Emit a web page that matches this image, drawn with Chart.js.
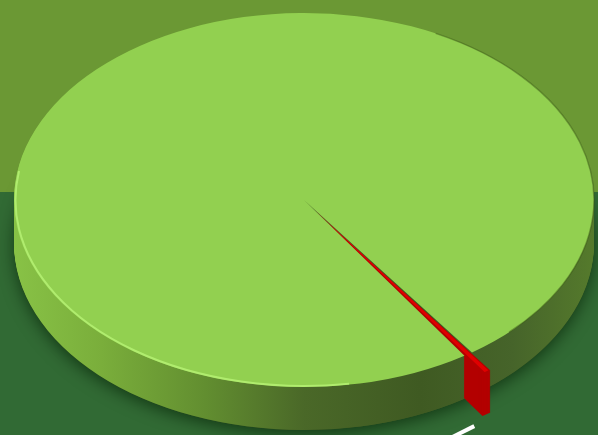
<!DOCTYPE html>
<html lang="en">
<head>
<meta charset="UTF-8">
<title>3D Pie</title>
<script src="https://cdn.jsdelivr.net/npm/chart.js"></script>
<style>
  html, body { margin: 0; padding: 0; background: #316a34; }
  #wrap { width: 598px; height: 435px; }
</style>
</head>
<body>
<div id="wrap"><canvas id="pie" width="598" height="435"></canvas></div>
<script>
const categories = ['Minority', 'Majority'];
const values = [0.5, 99.5];
const topColors = ['#e00000', '#92d050'];
const sideColors = ['#b30000', null]; // null = shaded green gradient

// where the flat circle gets projected to (tilted disc)
const center = { x: 304, y: 200 };
const radii = { x: 290, y: 187 };
const depth = 43;

function toEllipse(ctx, ref) {
  ctx.translate(center.x, center.y);
  ctx.scale(radii.x / ref.outerRadius, radii.y / ref.outerRadius);
  ctx.translate(-ref.x, -ref.y);
}

// same geometry the arc element uses when it draws itself
function slicePath(ctx, arc) {
  const off = (arc.options.offset || 0) / 4;
  const mid = (arc.startAngle + arc.endAngle) / 2;
  const fix = 1 - Math.sin(Math.min(Math.PI, arc.circumference || 0));
  const r = arc.outerRadius + off * fix;
  const x = arc.x + Math.cos(mid) * off;
  const y = arc.y + Math.sin(mid) * off;
  ctx.beginPath();
  ctx.moveTo(x, y);
  ctx.arc(x, y, r, arc.startAngle, arc.endAngle);
  ctx.closePath();
}

function project(ref, px, py) {
  const s = ref.outerRadius;
  return {
    x: center.x + (px - ref.x) * radii.x / s,
    y: center.y + (py - ref.y) * radii.y / s
  };
}

const tilt = {
  id: 'tilt',
  beforeDraw(chart) {
    const ctx = chart.ctx;
    ctx.save();
    ctx.fillStyle = '#6b9834';
    ctx.fillRect(0, 0, chart.width, 192);
    ctx.fillStyle = '#316a34';
    ctx.fillRect(0, 192, chart.width, chart.height - 192);
    ctx.restore();
  },
  beforeDatasetsDraw(chart) {
    const ctx = chart.ctx;
    const arcs = chart.getDatasetMeta(0).data;
    const ref = arcs[1];
    const r = ref.outerRadius;

    // soft shadow under the disc
    ctx.save();
    ctx.shadowColor = 'rgba(0,25,0,0.6)';
    ctx.shadowBlur = 16;
    ctx.shadowOffsetY = 4;
    ctx.translate(0, depth);
    toEllipse(ctx, ref);
    ctx.fillStyle = '#3f5a22';
    ctx.beginPath();
    ctx.arc(ref.x, ref.y, r, 0, Math.PI * 2);
    ctx.fill();
    ctx.restore();

    // side wall, stacked layers
    for (let k = depth; k >= 1; k--) {
      ctx.save();
      ctx.translate(0, k);
      toEllipse(ctx, ref);
      const grad = ctx.createLinearGradient(ref.x - r, 0, ref.x + r, 0);
      grad.addColorStop(0, '#88c246');
      grad.addColorStop(0.15, '#7aae3b');
      grad.addColorStop(0.33, '#628e30');
      grad.addColorStop(0.5, '#4a6828');
      grad.addColorStop(0.7, '#3f5a22');
      grad.addColorStop(0.86, '#46642a');
      grad.addColorStop(1, '#557a2c');
      arcs.forEach((arc, i) => {
        ctx.fillStyle = sideColors[i] || grad;
        slicePath(ctx, arc);
        ctx.fill();
      });
      ctx.restore();
    }

    // top face drawn by Chart.js under the same tilt
    ctx.save();
    toEllipse(ctx, ref);
  },
  afterDatasetsDraw(chart) {
    const ctx = chart.ctx;
    ctx.restore();
    const arcs = chart.getDatasetMeta(0).data;
    const ref = arcs[1];

    // faint dark edge on the right, light edge on the front-left rim
    ctx.save();
    toEllipse(ctx, ref);
    ctx.beginPath();
    ctx.arc(ref.x, ref.y, ref.outerRadius, Math.PI * 1.65, Math.PI * 0.25);
    ctx.restore();
    ctx.strokeStyle = 'rgba(55,85,20,0.45)';
    ctx.lineWidth = 1.5;
    ctx.stroke();

    ctx.save();
    toEllipse(ctx, ref);
    ctx.beginPath();
    ctx.arc(ref.x, ref.y, ref.outerRadius - 1, Math.PI * 0.45, Math.PI * 1.05);
    ctx.restore();
    ctx.strokeStyle = 'rgba(185,245,120,0.75)';
    ctx.lineWidth = 2;
    ctx.stroke();

    // leader line towards the (cropped) label of the small slice
    const red = arcs[0];
    const mid = (red.startAngle + red.endAngle) / 2;
    const p = project(ref, red.x + Math.cos(mid) * red.outerRadius, red.y + Math.sin(mid) * red.outerRadius);
    ctx.save();
    ctx.strokeStyle = '#ffffff';
    ctx.lineWidth = 4;
    ctx.beginPath();
    ctx.moveTo(p.x + 6, p.y + depth + 29);
    ctx.lineTo(p.x - 16, p.y + depth + 40);
    ctx.stroke();
    ctx.restore();
  }
};

const ctx = document.getElementById('pie').getContext('2d');
new Chart(ctx, {
  type: 'pie',
  data: {
    labels: categories,
    datasets: [{
      data: values,
      backgroundColor: topColors,
      borderWidth: 0,
      offset: [44, 0]
    }]
  },
  options: {
    responsive: false,
    animation: false,
    rotation: 144.6,
    layout: { padding: 0 },
    plugins: {
      legend: { display: false },
      tooltip: { enabled: false }
    }
  },
  plugins: [tilt]
});
</script>
</body>
</html>
